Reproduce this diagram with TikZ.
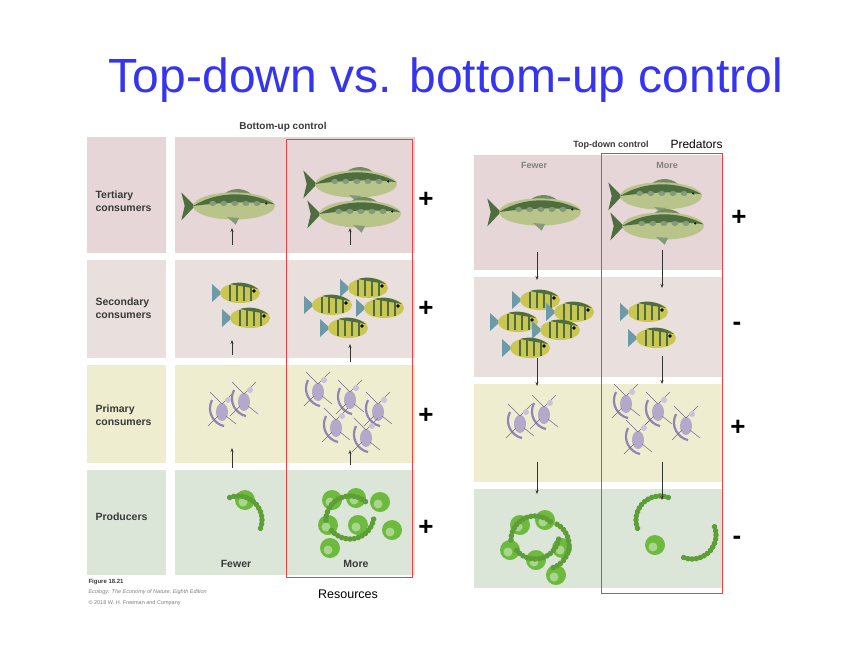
\documentclass[tikz,border=0pt]{standalone}
\usepackage{fontspec}
\setmainfont{Liberation Sans}
\usetikzlibrary{arrows.meta}
\definecolor{tert}{HTML}{E6D6D8}
\definecolor{seco}{HTML}{E9DFDC}
\definecolor{prim}{HTML}{EEEDD0}
\definecolor{prod}{HTML}{DCE6D8}
\definecolor{lab}{HTML}{3A3A3A}
\definecolor{ttl}{HTML}{3535F0}
\definecolor{redb}{HTML}{EE4040}
\definecolor{fishd}{HTML}{4F6E3F}
\definecolor{fishl}{HTML}{B8C48A}
\definecolor{sfish}{HTML}{C9C651}
\definecolor{zoo}{HTML}{9384B4}
\definecolor{alg}{HTML}{6DBA3F}
\tikzset{
 rowlab/.style={font=\bfseries\fontsize{10.5}{12.5}\selectfont,text=lab,align=left,anchor=west},
 sign/.style={font=\bfseries\fontsize{26}{26}\selectfont},
 arr/.style={-{Stealth[length=4pt,width=3pt]},draw=black!80,line width=0.6pt},
 redbox/.style={draw=redb,line width=0.8pt},
 pics/bigfish/.style={code={
   \begin{scope}[scale=0.85]
   \fill[fishd] (-46,0) -- (-62,-16) -- (-58,0) -- (-62,17) -- cycle;
   \fill[fishd!80] (-12,-14) .. controls (0,-24) and (16,-20) .. (22,-12) -- cycle;
   \fill[fishl] (0,0) ellipse (48 and 16);
   \fill[fishd] (-48,0) .. controls (-20,-18) and (20,-18) .. (48,-2) .. controls (20,-6) and (-20,-4) .. (-48,0);
   \foreach \i in {-25,-12,1,14,27}{\fill[fishd!70] (\i,-3) ellipse (4 and 3);}
   \fill[fishd!70] (-8,13) -- (2,22) -- (6,14) -- cycle;
   \fill[black] (38,-3) circle (1.3);
   \end{scope}}},
 pics/smallfish/.style={code={
   \fill[zoo!60!cyan!50!gray] (-18,0) -- (-28,-9) -- (-28,9) -- cycle;
   \fill[sfish] (0,0) ellipse (20 and 10);
   \fill[fishd] (-10,-9) .. controls (0,-12) and (10,-10) .. (18,-4) -- (0,-7) -- cycle;
   \foreach \i in {-10,-3,4,11}{\draw[fishd,line width=1.3pt] (\i,-8) -- (\i,8);}
   \fill[black] (14,-2) circle (1.8);}},
 pics/zoop/.style={code={
   \draw[zoo,line width=2.2pt] (-10,-12) .. controls (-16,0) and (-8,12) .. (2,14);
   \fill[zoo!70] (0,0) ellipse (6 and 9);
   \draw[zoo!80!black,line width=0.5pt] (0,-8) -- (-12,-20) (0,-8) -- (12,-20) (-4,4) -- (-14,14) (4,4) -- (14,12);
   \fill[zoo!50] (6,-12) circle (3);}},
 pics/alga/.style={code={
   \fill[alg] (0,0) circle (10); \fill[alg!60] (-2,2) circle (4.5);}},
 pics/chain/.style={code={
   \foreach \a in {0,10,...,130}{\fill[alg!85!black] (\a:24) circle (2.8);}}},
}
\begin{document}
\begin{tikzpicture}[x=1pt,y=-1pt]
\useasboundingbox[fill=white] (0,0) rectangle (846,654);
\node[text=ttl,font=\fontsize{48}{50}\selectfont] (title) at (446,80) {Top-down vs. bottom-up control};
% left panel backgrounds
\fill[tert] (87,137) rectangle (166,253); \fill[tert] (175,137) rectangle (415,253);
\fill[seco] (87,260) rectangle (166,358); \fill[seco] (175,260) rectangle (415,358);
\fill[prim] (87,365) rectangle (166,463); \fill[prim] (175,365) rectangle (415,463);
\fill[prod] (87,470) rectangle (166,575); \fill[prod] (175,470) rectangle (415,575);
\node[font=\bfseries\fontsize{10}{12}\selectfont,text=lab] (bu) at (283,127) {Bottom-up control};
\node[rowlab] (l1) at (92,201) {Tertiary\\consumers};
\node[rowlab] (l2) at (92,308) {Secondary\\consumers};
\node[rowlab] (l3) at (92,415) {Primary\\consumers};
\node[rowlab] (l4) at (92,517) {Producers};
\node[font=\bfseries\fontsize{10.5}{12}\selectfont,text=lab] (fw) at (236,564) {Fewer};
\node[font=\bfseries\fontsize{10.5}{12}\selectfont,text=lab] (mo) at (356,564) {More};
\node[font=\bfseries\fontsize{6}{7}\selectfont,text=lab,anchor=west] (fig) at (85,582) {Figure 18.21};
\node[font=\itshape\fontsize{5.5}{7}\selectfont,text=gray,anchor=west] (fig2) at (85,592) {Ecology: The Economy of Nature, Eighth Edition};
\node[font=\fontsize{5.5}{7}\selectfont,text=gray,anchor=west] (fig3) at (85,603) {\copyright\ 2018 W. H. Freeman and Company};
% left pictures
\pic at (234,206) {bigfish};
\pic at (356,184) {bigfish};
\pic at (360,214) {bigfish};
\pic at (240,293) {smallfish}; \pic at (250,318) {smallfish};
\pic at (368,288) {smallfish}; \pic at (332,305) {smallfish}; \pic at (384,308) {smallfish}; \pic at (348,328) {smallfish};
\pic at (222,412) {zoop}; \pic at (244,402) {zoop};
\pic at (318,392) {zoop}; \pic at (350,400) {zoop}; \pic at (378,412) {zoop}; \pic at (336,428) {zoop}; \pic at (366,438) {zoop};
\pic at (245,500) {alga}; \pic[rotate=110] at (238,520) {chain};
\pic at (332,500) {alga}; \pic at (356,498) {alga}; \pic at (380,502) {alga}; \pic at (328,525) {alga}; \pic at (358,525) {alga}; \pic at (392,530) {alga}; \pic at (330,548) {alga};
\pic[rotate=180] at (350,520) {chain}; \pic[rotate=-10] at (350,515) {chain};
\coordinate (a1) at (232,245); \coordinate (a1e) at (232,228);
\coordinate (a2) at (232,355); \coordinate (a2e) at (232,340);
\coordinate (a3) at (232,468); \coordinate (a3e) at (232,448);
\coordinate (b1) at (350,245); \coordinate (b1e) at (350,228);
\coordinate (b2) at (350,362); \coordinate (b2e) at (350,344);
\coordinate (b3) at (350,465); \coordinate (b3e) at (350,450);
\foreach \s/\e in {a1/a1e,a2/a2e,a3/a3e,b1/b1e,b2/b2e,b3/b3e}{\draw[arr] (\s) -- (\e);}
\draw[redbox] (286,139) rectangle (412,577);
\node[font=\fontsize{12.5}{14}\selectfont] (res) at (348,594) {Resources};
\node[sign] (p1) at (426,200) {+}; \node[sign] (p2) at (426,309) {+};
\node[sign] (p3) at (426,416) {+}; \node[sign] (p4) at (426,528) {+};
% right panel
\fill[tert] (474,155) rectangle (722,270);
\fill[seco] (474,277) rectangle (722,377);
\fill[prim] (474,384) rectangle (722,482);
\fill[prod] (474,489) rectangle (722,588);
\node[font=\bfseries\fontsize{9}{10}\selectfont,text=lab] (td) at (611,145) {Top-down control};
\node[font=\fontsize{12}{13}\selectfont,anchor=west] (pred) at (667,144) {Predators};
\node[font=\bfseries\fontsize{9}{10}\selectfont,text=gray] (rf) at (534,165) {Fewer};
\node[font=\bfseries\fontsize{9}{10}\selectfont,text=gray] (rm) at (667,165) {More};
\pic at (540,212) {bigfish};
\pic at (661,196) {bigfish}; \pic at (663,226) {bigfish};
\pic at (540,300) {smallfish}; \pic at (574,312) {smallfish}; \pic at (518,322) {smallfish}; \pic at (560,330) {smallfish}; \pic at (530,348) {smallfish};
\pic at (648,312) {smallfish}; \pic at (656,338) {smallfish};
\pic at (520,424) {zoop}; \pic at (544,415) {zoop};
\pic at (626,404) {zoop}; \pic at (658,412) {zoop}; \pic at (686,426) {zoop}; \pic at (638,440) {zoop};
\pic at (520,525) {alga}; \pic at (545,520) {alga}; \pic at (510,550) {alga}; \pic at (536,560) {alga}; \pic at (562,548) {alga}; \pic at (556,575) {alga};
\pic[rotate=180] at (535,540) {chain}; \pic[rotate=-10] at (535,535) {chain}; \pic[rotate=60] at (545,545) {chain};
\pic at (655,545) {alga}; \pic[rotate=20] at (692,535) {chain}; \pic[rotate=200] at (660,520) {chain};
\coordinate (c1) at (537,252); \coordinate (c1e) at (537,280);
\coordinate (c2) at (537,358); \coordinate (c2e) at (537,386);
\coordinate (c3) at (537,462); \coordinate (c3e) at (537,494);
\coordinate (d1) at (662,250); \coordinate (d1e) at (662,288);
\coordinate (d2) at (662,356); \coordinate (d2e) at (662,384);
\coordinate (d3) at (662,462); \coordinate (d3e) at (662,500);
\foreach \s/\e in {c1/c1e,c2/c2e,c3/c3e,d1/d1e,d2/d2e,d3/d3e}{\draw[arr] (\s) -- (\e);}
\draw[redbox] (601,153) rectangle (722,593);
\node[sign] (q1) at (739,218) {+}; \node[sign] (q2) at (737,326) {-};
\node[sign] (q3) at (738,428) {+}; \node[sign] (q4) at (737,540) {-};
\end{tikzpicture}
\end{document}
